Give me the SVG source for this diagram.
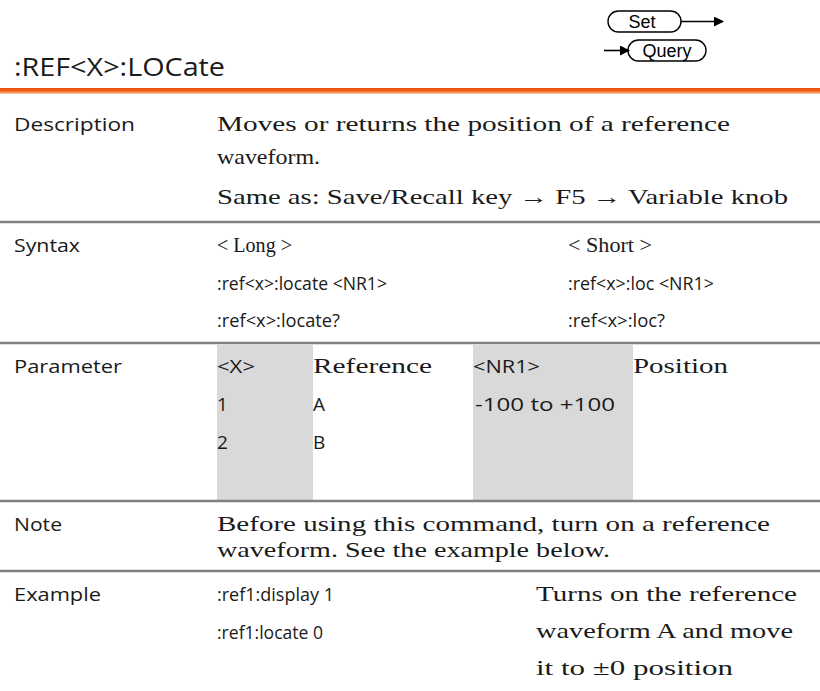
<svg xmlns="http://www.w3.org/2000/svg" width="820" height="691" viewBox="0 0 820 691">
<style>
.lbl{font-family:"Open Sans","DejaVu Sans",sans-serif;font-size:18px;fill:#1a1a1a}
.code{font-family:"Open Sans","DejaVu Sans",sans-serif;font-size:19px;fill:#1a1a1a}
.body{font-family:"Liberation Serif","Times New Roman",serif;font-size:22px;fill:#1a1a1a}
.title{font-family:"Open Sans","DejaVu Sans",sans-serif;font-size:26px;fill:#1a1a1a}
.pill{fill:#fff;stroke:#000;stroke-width:1.4}
.pt{font-family:"Liberation Sans",Arial,sans-serif;font-size:18px;fill:#000;text-anchor:middle}
.sep{stroke:#808080;stroke-width:2.5}
.cell{fill:#d9d9d9}
</style>
<defs>
<marker id="ah" markerWidth="10" markerHeight="10" refX="9" refY="5" orient="auto" markerUnits="userSpaceOnUse">
<path d="M0,0 L10,5 L0,10 Z" fill="#000"/>
</marker>
<linearGradient id="og" x1="0" y1="0" x2="0" y2="1">
<stop offset="0" stop-color="#e84d0e"/>
<stop offset="0.55" stop-color="#f06a1e"/>
<stop offset="1" stop-color="#fbd2b4"/>
</linearGradient>
</defs>

<g id="header">
<text class="title" x="14" y="76" textLength="211" lengthAdjust="spacingAndGlyphs">:REF&lt;X&gt;:LOCate</text>
<rect x="0" y="88" width="820" height="6" fill="url(#og)"/>
</g>

<g id="set-badge">
<rect class="pill" x="608" y="11" width="73" height="21" rx="10.5" ry="10.5"/>
<text class="pt" x="642" y="28">Set</text>
</g>
<g id="query-badge">
<rect class="pill" x="628" y="40" width="78" height="21" rx="10.5" ry="10.5"/>
<text class="pt" x="667" y="57">Query</text>
</g>
<g id="connectors">
<line x1="681" y1="21.5" x2="723" y2="21.5" stroke="#000" stroke-width="1.6" marker-end="url(#ah)"/>
<line x1="604" y1="50.5" x2="629" y2="50.5" stroke="#000" stroke-width="1.6" marker-end="url(#ah)"/>
</g>

<g id="row-description">
<text class="lbl" x="14" y="131" textLength="121" lengthAdjust="spacingAndGlyphs">Description</text>
<text class="body" x="217" y="131" textLength="513" lengthAdjust="spacingAndGlyphs">Moves or returns the position of a reference</text>
<text class="body" x="217" y="164" textLength="103" lengthAdjust="spacingAndGlyphs">waveform.</text>
<text class="body" x="217" y="204" textLength="571" lengthAdjust="spacingAndGlyphs">Same as: Save/Recall key → F5 → Variable knob</text>
</g>
<line class="sep" x1="0" y1="222" x2="820" y2="222"/>

<g id="row-syntax">
<text class="lbl" x="14" y="252" textLength="66" lengthAdjust="spacingAndGlyphs">Syntax</text>
<text class="body" x="217" y="252" textLength="75" lengthAdjust="spacingAndGlyphs">&lt; Long &gt;</text>
<text class="body" x="568" y="252" textLength="84" lengthAdjust="spacingAndGlyphs">&lt; Short &gt;</text>
<text class="code" x="217" y="290" textLength="170" lengthAdjust="spacingAndGlyphs">:ref&lt;x&gt;:locate &lt;NR1&gt;</text>
<text class="code" x="568" y="290" textLength="146" lengthAdjust="spacingAndGlyphs">:ref&lt;x&gt;:loc &lt;NR1&gt;</text>
<text class="code" x="217" y="327" textLength="123" lengthAdjust="spacingAndGlyphs">:ref&lt;x&gt;:locate?</text>
<text class="code" x="568" y="327" textLength="97" lengthAdjust="spacingAndGlyphs">:ref&lt;x&gt;:loc?</text>
</g>
<line class="sep" x1="0" y1="343" x2="820" y2="343"/>

<g id="row-parameter">
<rect class="cell" x="217" y="344" width="96" height="156"/>
<rect class="cell" x="473" y="344" width="160" height="156"/>
<text class="lbl" x="14" y="373" textLength="108" lengthAdjust="spacingAndGlyphs">Parameter</text>
<text class="code" x="217" y="373" textLength="38" lengthAdjust="spacingAndGlyphs">&lt;X&gt;</text>
<text class="body" x="313" y="373" textLength="119" lengthAdjust="spacingAndGlyphs">Reference</text>
<text class="code" x="473" y="373" textLength="67" lengthAdjust="spacingAndGlyphs">&lt;NR1&gt;</text>
<text class="body" x="633" y="373" textLength="95" lengthAdjust="spacingAndGlyphs">Position</text>
<text class="code" x="217" y="411">1</text>
<text class="code" x="313" y="411">A</text>
<text class="code" x="475" y="411" textLength="140" lengthAdjust="spacingAndGlyphs">-100 to +100</text>
<text class="code" x="217" y="449">2</text>
<text class="code" x="313" y="449">B</text>
</g>
<line class="sep" x1="0" y1="501" x2="820" y2="501"/>

<g id="row-note">
<text class="lbl" x="14" y="531" textLength="48" lengthAdjust="spacingAndGlyphs">Note</text>
<text class="body" x="217" y="531" textLength="553" lengthAdjust="spacingAndGlyphs">Before using this command, turn on a reference</text>
<text class="body" x="217" y="557" textLength="393" lengthAdjust="spacingAndGlyphs">waveform. See the example below.</text>
</g>
<line class="sep" x1="0" y1="571" x2="820" y2="571"/>

<g id="row-example">
<text class="lbl" x="14" y="601" textLength="87" lengthAdjust="spacingAndGlyphs">Example</text>
<text class="code" x="217" y="601" textLength="117" lengthAdjust="spacingAndGlyphs">:ref1:display 1</text>
<text class="code" x="217" y="639" textLength="106" lengthAdjust="spacingAndGlyphs">:ref1:locate 0</text>
<text class="body" x="536" y="601" textLength="261" lengthAdjust="spacingAndGlyphs">Turns on the reference</text>
<text class="body" x="536" y="638" textLength="257" lengthAdjust="spacingAndGlyphs">waveform A and move</text>
<text class="body" x="536" y="675" textLength="197" lengthAdjust="spacingAndGlyphs">it to ±0 position</text>
</g>
</svg>
